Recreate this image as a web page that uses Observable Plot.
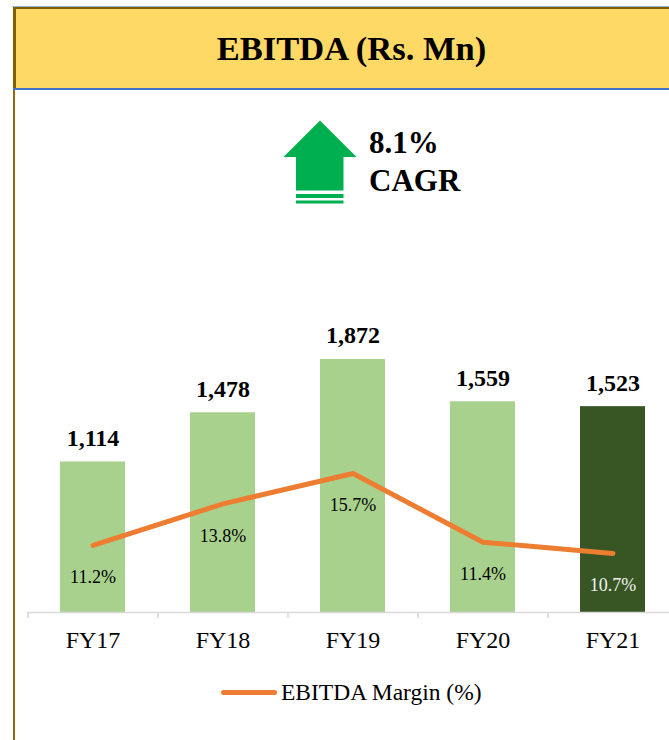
<!DOCTYPE html>
<html>
<head>
<meta charset="utf-8">
<script src="https://cdn.jsdelivr.net/npm/d3@7"></script>
<script src="https://cdn.jsdelivr.net/npm/@observablehq/plot@0.6"></script>
<style>
  body { margin: 0; background: #fff; }
  #wrap { position: relative; width: 669px; height: 740px; overflow: hidden; background: #fff;
          font-family: "Liberation Serif", "Times New Roman", serif; }
  .abs { position: absolute; }
  #title { left: 13px; top: 7px; width: 656px; height: 81px; box-sizing: border-box;
           background: #FFD966; border-top: 2px solid #7F6000; border-left: 3px solid #7F6000;
           display: flex; align-items: center; justify-content: center;
           font-weight: bold; font-size: 34.5px; color: #000; padding-left: 18px; }
  #cagr { left: 369px; top: 124px; font-weight: bold; font-size: 31px; line-height: 38px; color: #000; }
  #legend { left: 221px; top: 678px; height: 28px; display: flex; align-items: center;
            font-size: 23.5px; color: #000; }
  #legend .sw { width: 56px; height: 5px; border-radius: 3px; background: #ED7D31; margin-right: 4px; }
  #chart { left: 0; top: 90px; }
</style>
</head>
<body>
<div id="wrap">
  <div class="abs" style="left:12px;top:6px;width:657px;height:1px;background:#9DB3D9"></div>
  <div class="abs" id="title">EBITDA (Rs. Mn)</div>
  <div class="abs" style="left:13px;top:88px;width:656px;height:2px;background:#4472C4"></div>
  <div class="abs" style="left:13px;top:90px;width:2px;height:650px;background:#8C6A12"></div>
  <svg class="abs" style="left:280px;top:116px" width="82" height="92" viewBox="280 116 82 92">
    <polygon points="320,120.5 356.5,157 343.5,157 343.5,190.5 296,190.5 296,157 283.5,157" fill="#00B050"/>
    <rect x="296" y="194" width="47.5" height="4" fill="#00B050"/>
    <rect x="296" y="200.5" width="47.5" height="3" fill="#00B050"/>
  </svg>
  <div class="abs" id="cagr">8.1%<br>CAGR</div>
  <div class="abs" id="chart"></div>
  <div class="abs" id="legend"><div class="sw"></div><span>EBITDA Margin (%)</span></div>
</div>
<script>
// ---- data ----
const years = ["FY17", "FY18", "FY19", "FY20", "FY21"];
const ebitda = [1114, 1478, 1872, 1559, 1523];
const ebitdaLabels = ["1,114", "1,478", "1,872", "1,559", "1,523"];
const marginPct = [11.2, 13.8, 15.7, 11.4, 10.7];
const marginLabels = ["11.2%", "13.8%", "15.7%", "11.4%", "10.7%"];

const data = years.map((year, i) => ({
  year, ebitda: ebitda[i], label: ebitdaLabels[i],
  margin: marginPct[i], mlabel: marginLabels[i], latest: i === years.length - 1
}));

// secondary axis for the margin line, expressed in primary (Rs. Mn) units
const y2 = d3.scaleLinear().domain([7, 17]).range([0, 1182]);

const serif = '"Liberation Serif", "Times New Roman", serif';

const chart = Plot.plot({
  width: 669,
  height: 650,
  marginLeft: 27,
  marginRight: 0,
  marginTop: 0,
  marginBottom: 0,
  style: { fontFamily: serif, background: "transparent", overflow: "visible" },
  x: { type: "band", domain: years, range: [27, 677], paddingInner: 0.5, paddingOuter: 0.25, axis: null },
  y: { domain: [0, 2000], range: [522, 251.7], axis: null },
  marks: [
    Plot.barY(data, { x: "year", y: "ebitda", fill: d => d.latest ? "#375623" : "#A9D18E" }),
    Plot.ruleY([0], { stroke: "#D9D9D9", strokeWidth: 1.5 }),
    Plot.ruleX(years, { x: d => d, dx: -65, y1: 0, y2: -45, stroke: "#D9D9D9", strokeWidth: 1.5 }),
    Plot.text(data, { x: "year", y: "ebitda", text: "label", lineAnchor: "bottom", dy: -16,
      fontSize: 24, fontWeight: "bold", fill: "#000" }),
    Plot.line(data, { x: "year", y: d => y2(d.margin), stroke: "#ED7D31", strokeWidth: 5,
      strokeLinecap: "round", strokeLinejoin: "round" }),
    Plot.text(data, { x: "year", y: d => y2(d.margin), text: "mlabel", dy: 32, lineAnchor: "middle",
      fontSize: 18, fill: d => d.latest ? "#F2F2F2" : "#000" }),
    Plot.text(years, { x: d => d, y: 0, text: d => d, dy: 28, lineAnchor: "middle",
      fontSize: 24, fill: "#000" })
  ]
});
document.getElementById("chart").appendChild(chart);
</script>
</body>
</html>
